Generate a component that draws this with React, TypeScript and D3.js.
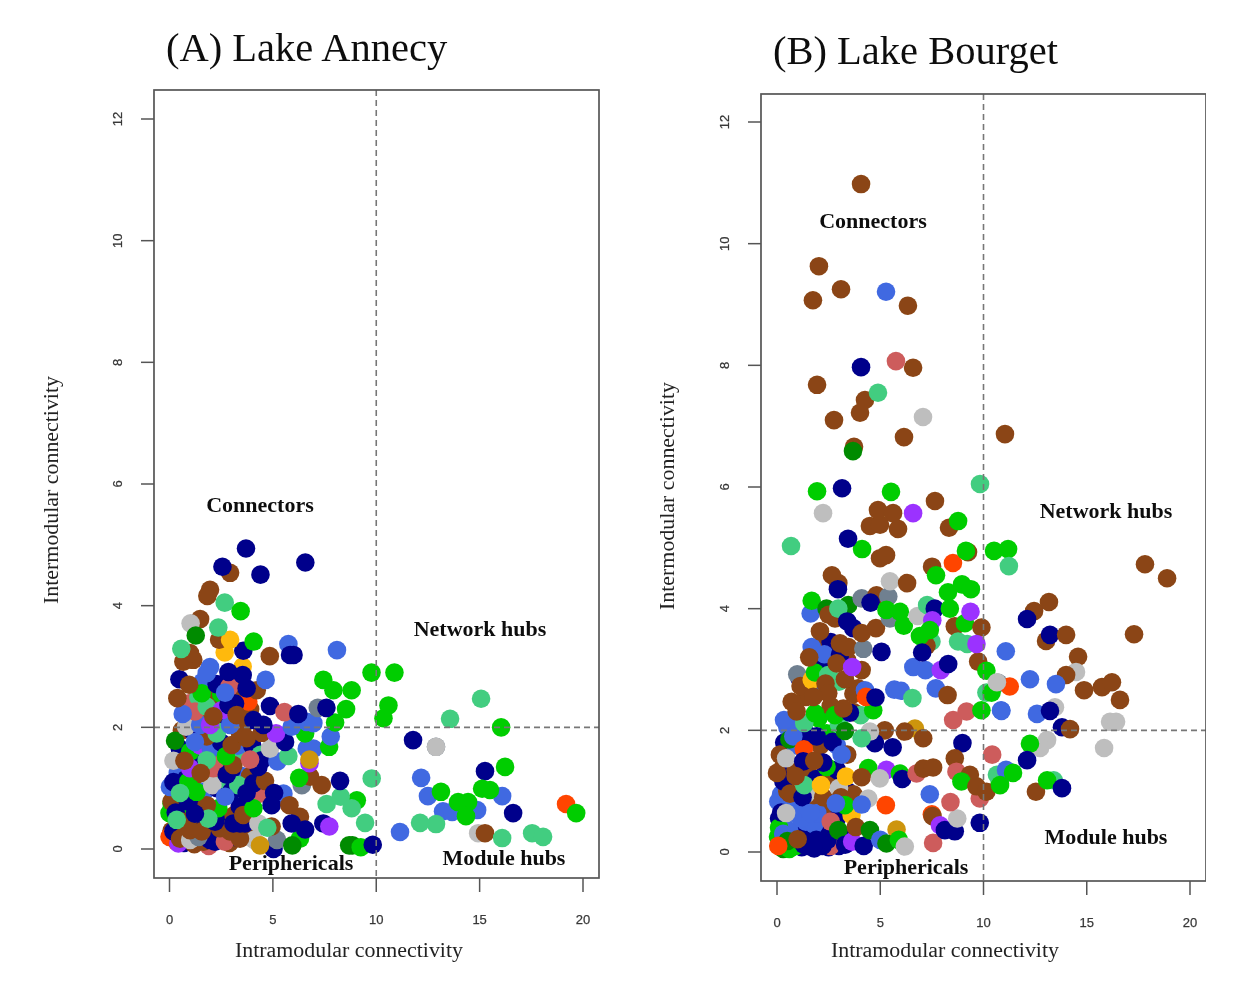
import React from "react";
import * as d3 from "d3";

const palette: Record<string, string> = {
  n: "#00008b", b: "#8b4513", g: "#00cd00", s: "#43cd80", l: "#4169e1", p: "#9b30ff",
  y: "#ffb90f", o: "#ff4500", d: "#008b00", h: "#708090", a: "#bebebe", r: "#cd5c5c", k: "#cd950c",
};
type P = [number, number, string];

const xTicks = [0, 5, 10, 15, 20];
const yTicks = [0, 2, 4, 6, 8, 10, 12];

const annecyDense: P[] = [
  [0.1,0.3,"b"],[0.35,0.12,"o"],[0.7,0.1,"n"],[1.2,0.08,"b"],[1.9,0.05,"r"],[2.2,0.12,"n"],[2.9,0.1,"b"],[3.2,0.2,"n"],[0.8,0.3,"n"],[1.3,0.4,"b"],[1.7,0.35,"n"],[2.7,0.2,"g"],[3.9,0.3,"b"],[4.1,0.15,"a"],
  [0.5,0.6,"b"],[0.9,0.55,"b"],[1.5,0.65,"n"],[2.1,0.55,"g"],[2.6,0.5,"n"],[3.1,0.55,"b"],[3.4,0.7,"n"],[0.25,0.9,"b"],[0.7,0.75,"g"],[1.2,1.0,"b"],[1.7,0.95,"l"],[2.3,1.0,"n"],[2.6,1.15,"s"],[3.0,0.95,"n"],[3.5,1.2,"l"],
  [0.4,1.25,"l"],[0.8,1.15,"n"],[1.4,1.4,"n"],[1.9,1.25,"b"],[2.4,1.45,"r"],[3.0,1.3,"n"],[3.5,1.55,"s"],[3.9,1.2,"b"],[0.5,1.65,"n"],[1.0,1.6,"g"],[1.5,1.7,"p"],[2.0,1.65,"l"],[2.5,1.75,"n"],[3.3,1.7,"l"],[4.0,1.7,"n"],[4.4,1.55,"s"],
  [0.6,1.95,"b"],[1.1,1.95,"n"],[1.6,2.1,"b"],[2.3,2.05,"s"],[2.7,2.2,"n"],[3.6,2.05,"b"],[1.0,2.4,"r"],[1.4,2.5,"s"],[2.0,2.45,"b"],[2.5,2.55,"g"],[3.3,2.6,"b"],[3.0,2.75,"b"],[1.6,2.75,"l"],[3.9,2.3,"b"],
];

const annecyPoints: P[] = [
  [0.0,0.2,"o"],[0.43,0.09,"p"],[0.19,0.29,"n"],[0.51,0.17,"b"],[1.64,0.12,"b"],[1.96,0.15,"n"],[2.68,0.12,"r"],[3.41,0.17,"b"],[1.0,0.15,"a"],[1.4,0.2,"h"],
  [0.0,0.59,"g"],[0.1,0.75,"g"],[0.1,0.78,"b"],[0.3,0.6,"n"],[0.6,0.45,"b"],[0.99,0.31,"b"],[1.56,0.29,"b"],[2.44,0.34,"b"],[2.93,0.29,"b"],[2.2,0.45,"n"],
  [3.09,0.42,"n"],[3.41,0.42,"n"],[3.65,0.42,"n"],[3.57,0.56,"b"],[2.36,0.67,"g"],[1.8,0.72,"b"],[0.35,0.48,"s"],[1.88,0.5,"s"],[0.88,0.78,"n"],[1.23,0.58,"n"],
  [5.03,0.0,"n"],[5.2,0.15,"h"],[4.3,0.42,"a"],[4.94,0.37,"b"],[4.73,0.35,"s"],[4.38,0.06,"k"],[6.31,0.17,"g"],[5.94,0.06,"d"],
  [0.02,1.02,"l"],[0.19,1.1,"n"],[0.91,1.11,"g"],[1.31,0.94,"g"],[0.51,0.92,"s"],[2.07,1.05,"a"],[3.33,1.05,"s"],[2.69,0.86,"l"],[4.38,0.91,"r"],[4.06,0.67,"g"],
  [4.06,1.08,"n"],[3.73,0.92,"n"],[4.62,1.12,"b"],[5.51,0.91,"l"],[5.06,0.92,"n"],[4.94,0.72,"n"],[5.8,0.72,"b"],[6.31,0.53,"b"],[5.91,0.42,"n"],[6.56,0.32,"n"],
  [7.44,0.42,"n"],[7.73,0.37,"p"],[9.06,0.8,"g"],[7.6,0.74,"s"],[8.28,0.86,"s"],[8.81,0.67,"s"],[9.46,0.43,"s"],[8.69,0.06,"d"],[8.85,0.06,"d"],[9.25,0.03,"g"],[9.83,0.07,"n"],
  [0.99,1.33,"p"],[2.12,1.33,"r"],[0.19,1.45,"a"],[0.72,1.45,"b"],[1.8,1.46,"s"],[2.77,1.22,"n"],[1.51,1.25,"b"],[3.09,1.38,"b"],[2.73,1.53,"g"],[4.3,1.35,"n"],[4.46,1.46,"n"],[3.9,1.47,"r"],[5.22,1.44,"l"],[5.75,1.53,"s"],
  [6.4,1.05,"h"],[6.8,1.19,"b"],[7.36,1.05,"b"],[6.27,1.17,"g"],[8.25,1.12,"n"],[9.78,1.16,"s"],[6.77,1.41,"p"],[6.64,1.65,"l"],[6.96,1.65,"l"],[6.77,1.47,"k"],
  [1.8,1.85,"b"],[2.28,1.9,"s"],[3.01,1.71,"b"],[0.27,1.78,"d"],[1.23,1.76,"l"],[3.41,1.9,"b"],[3.73,1.82,"b"],[4.86,1.65,"a"],[5.59,1.76,"n"],[4.46,1.91,"b"],[5.15,1.9,"p"],
  [7.72,1.68,"g"],[6.56,1.9,"g"],[7.8,1.85,"l"],[8.01,2.08,"g"],[6.64,2.09,"l"],[6.96,2.07,"l"],[5.91,2.01,"l"],[0.8,2.01,"a"],[1.48,2.04,"l"],[1.96,2.04,"p"],[2.93,2.04,"l"],
  [1.23,2.26,"r"],[0.64,2.22,"l"],[1.8,2.34,"s"],[2.52,2.28,"p"],[3.81,2.42,"o"],[2.85,2.37,"n"],[3.17,2.39,"n"],[2.12,2.18,"b"],[3.25,2.2,"b"],[4.06,2.12,"n"],[4.54,2.04,"n"],
  [4.86,2.35,"n"],[5.56,2.25,"r"],[6.23,2.22,"n"],[7.17,2.32,"h"],[7.59,2.32,"n"],[8.54,2.3,"g"],[10.35,2.15,"g"],[10.59,2.36,"g"],[7.44,2.78,"g"],[7.93,2.61,"g"],[8.81,2.61,"g"],[9.77,2.9,"g"],[10.88,2.9,"g"],
  [0.38,2.48,"b"],[1.56,2.56,"g"],[2.28,2.71,"n"],[2.9,2.67,"r"],[4.22,2.61,"b"],[3.73,2.64,"n"],[2.69,2.57,"l"],[0.48,2.79,"n"],[0.95,2.7,"b"],[4.65,2.78,"l"],
  [3.54,3.0,"y"],[3.54,2.86,"n"],[2.85,2.91,"n"],[1.96,2.99,"l"],[1.8,2.89,"l"],[1.15,3.11,"b"],[0.67,3.08,"b"],[0.99,3.22,"b"],[0.57,3.29,"s"],
  [5.75,3.37,"l"],[5.83,3.19,"n"],[6.0,3.19,"n"],[8.1,3.27,"l"],[4.85,3.17,"b"],[2.67,3.23,"y"],[3.57,3.26,"n"],[2.4,3.44,"b"],[2.93,3.44,"y"],[4.07,3.41,"g"],
  [1.48,3.78,"b"],[1.02,3.71,"a"],[2.36,3.64,"s"],[1.27,3.51,"d"],[1.96,4.26,"b"],[1.83,4.16,"b"],[2.67,4.05,"s"],[3.44,3.91,"g"],[2.93,4.54,"b"],[2.56,4.64,"n"],[3.7,4.94,"n"],[4.4,4.51,"n"],[6.57,4.71,"n"],
  [11.15,0.28,"l"],[11.78,1.79,"n"],[12.89,1.68,"h"],[12.89,1.68,"a"],[13.57,2.14,"s"],[16.04,2.0,"g"],[15.07,2.47,"s"],[12.17,1.17,"l"],[12.5,0.87,"l"],[16.09,0.87,"l"],[15.26,1.28,"n"],[16.23,1.35,"g"],
  [13.13,0.94,"g"],[13.23,0.62,"l"],[13.67,0.61,"l"],[14.88,0.64,"l"],[15.12,0.99,"g"],[15.5,0.97,"g"],[13.96,0.77,"g"],[14.44,0.77,"g"],[14.34,0.54,"g"],[12.89,0.41,"s"],[12.12,0.43,"s"],
  [14.93,0.26,"a"],[15.26,0.26,"b"],[16.09,0.18,"s"],[16.62,0.59,"n"],[17.54,0.26,"s"],[18.07,0.2,"s"],[19.18,0.74,"o"],[19.67,0.59,"g"],
];

const bourgetDense: P[] = [
  [0.05,0.25,"g"],[0.3,0.05,"d"],[0.6,0.05,"g"],[0.8,0.3,"n"],[1.2,0.08,"n"],[1.5,0.1,"n"],[1.8,0.06,"n"],[2.1,0.15,"n"],[2.5,0.08,"n"],[1.4,0.3,"n"],[1.8,0.3,"n"],[2.3,0.28,"n"],[2.8,0.12,"r"],[3.0,0.1,"n"],[3.4,0.25,"n"],
  [0.1,0.55,"n"],[0.3,0.45,"l"],[0.6,0.35,"l"],[0.8,0.65,"l"],[1.1,0.75,"l"],[1.4,0.5,"l"],[1.8,0.45,"l"],[0.2,0.95,"l"],[0.55,0.8,"l"],[1.4,0.8,"l"],[2.0,0.85,"b"],[2.5,0.65,"b"],[2.9,0.55,"n"],
  [0.3,1.4,"b"],[0.5,1.25,"n"],[0.9,1.35,"b"],[1.5,1.3,"b"],[1.9,1.2,"n"],[1.4,0.95,"a"],[2.6,1.2,"b"],[2.9,1.35,"n"],[3.4,1.0,"n"],[3.7,0.95,"b"],[2.4,1.4,"g"],
  [0.35,1.8,"n"],[0.9,1.75,"l"],[1.6,1.85,"b"],[2.1,1.75,"b"],[2.9,1.75,"l"],[3.4,1.6,"b"],[0.5,2.05,"l"],[1.0,2.1,"l"],[1.4,1.95,"n"],[2.4,1.95,"g"],[3.0,2.1,"s"],
  [1.4,2.55,"b"],[2.0,2.2,"g"],[2.6,2.4,"b"],[3.7,2.3,"b"],[1.1,2.85,"n"],[2.0,2.75,"l"],[3.0,2.8,"s"],[3.7,2.6,"b"],[2.2,3.1,"n"],[2.0,3.35,"b"],[2.6,3.45,"n"],[3.4,3.15,"b"],
];

const bourgetPoints: P[] = [
  [0.06,0.83,"l"],[0.1,0.4,"g"],[0.3,0.3,"l"],[0.2,0.65,"n"],[0.5,1.0,"b"],[0.31,1.16,"n"],[0.14,1.6,"b"],[0.0,1.3,"b"],[0.63,0.96,"b"],[1.24,0.9,"n"],[1.32,1.1,"s"],
  [1.95,0.64,"l"],[1.15,0.55,"l"],[2.24,0.9,"b"],[2.13,1.1,"y"],[3.0,1.05,"a"],[3.1,0.9,"b"],[1.6,0.64,"l"],[0.44,0.64,"a"],[2.6,0.5,"r"],[3.61,0.61,"y"],[3.29,0.77,"g"],[2.85,0.8,"l"],[4.42,0.88,"a"],[4.1,0.78,"l"],
  [0.9,0.1,"g"],[0.5,0.18,"d"],[2.6,0.1,"r"],[1.3,0.12,"n"],[1.6,0.15,"n"],[1.9,0.2,"n"],[2.2,0.1,"n"],[2.45,0.2,"n"],[1.75,0.08,"n"],[0.06,0.1,"o"],[1.0,0.21,"b"],[2.97,0.36,"d"],[3.3,0.12,"n"],[3.64,0.17,"p"],[3.82,0.41,"b"],[4.2,0.1,"n"],[4.5,0.36,"d"],[5.0,0.2,"l"],[5.79,0.37,"k"],[5.3,0.14,"d"],[5.9,0.2,"g"],[6.19,0.09,"a"],
  [7.56,0.15,"r"],[7.5,0.62,"o"],[7.53,0.59,"b"],[7.89,0.44,"p"],[8.13,0.36,"n"],[8.61,0.34,"n"],[8.73,0.55,"a"],[9.82,0.48,"n"],[8.4,0.82,"r"],[7.4,0.95,"l"],[5.27,0.77,"o"],
  [0.34,2.17,"l"],[0.6,1.85,"d"],[0.79,1.9,"l"],[1.3,1.69,"o"],[0.44,1.54,"a"],[1.27,1.49,"n"],[2.24,1.47,"n"],[1.92,1.9,"n"],[2.69,1.81,"n"],[3.13,1.6,"l"],[1.8,1.5,"b"],[0.9,1.25,"b"],
  [3.34,1.24,"y"],[4.42,1.38,"g"],[4.1,1.23,"b"],[5.3,1.35,"p"],[5.95,1.29,"g"],[4.98,1.21,"a"],[6.06,1.2,"n"],[6.76,1.29,"r"],[7.08,1.37,"b"],[7.56,1.39,"b"],
  [8.98,1.79,"n"],[8.61,1.54,"b"],[8.69,1.32,"r"],[10.42,1.6,"r"],[9.34,1.27,"b"],[8.93,1.16,"g"],[9.82,0.88,"r"],[10.79,1.13,"g"],[9.66,1.08,"b"],[10.14,0.99,"b"],[11.08,1.32,"l"],
  [6.68,2.03,"k"],[5.22,2.0,"b"],[6.19,1.98,"b"],[7.08,1.87,"b"],[5.6,1.72,"n"],[4.74,1.79,"n"],[4.5,1.98,"a"],[3.29,1.99,"d"],[4.1,1.87,"s"],
  [8.53,2.17,"r"],[9.18,2.31,"r"],[9.9,2.33,"g"],[10.87,2.32,"l"],[1.32,2.12,"s"],[1.84,2.28,"g"],[2.81,2.25,"g"],[4.05,2.25,"s"],[3.53,2.29,"n"],[3.21,2.36,"b"],[4.66,2.33,"g"],
  [0.98,2.92,"h"],[1.14,2.73,"b"],[1.68,2.83,"y"],[1.84,2.95,"g"],[2.48,2.91,"s"],[2.35,2.77,"b"],[2.48,2.61,"b"],[1.76,2.55,"b"],[0.71,2.47,"b"],[0.95,2.31,"b"],
  [3.93,2.69,"b"],[4.26,2.66,"l"],[4.31,2.55,"o"],[4.77,2.54,"n"],[5.68,2.67,"l"],[6.0,2.65,"l"],[6.56,2.53,"s"],[7.69,2.69,"l"],[8.26,2.58,"b"],
  [1.68,3.37,"l"],[2.29,3.25,"l"],[1.56,3.2,"b"],[3.05,3.24,"n"],[3.05,3.43,"b"],[3.45,3.37,"b"],[2.89,3.1,"b"],[4.1,2.99,"b"],[3.29,2.84,"b"],[3.64,3.04,"p"],[4.18,3.34,"h"],[5.06,3.29,"n"],
  [6.6,3.04,"l"],[7.19,2.99,"l"],[7.93,2.99,"p"],[8.29,3.09,"n"],[9.74,3.13,"b"],[10.14,2.98,"g"],[11.08,3.3,"l"],[10.71,2.78,"h"],[11.27,2.72,"o"],[10.14,2.62,"s"],[10.39,2.62,"g"],[10.65,2.79,"a"],[10.85,2.33,"l"],
  [1.63,3.92,"l"],[1.68,4.13,"g"],[2.4,4.0,"d"],[3.45,4.06,"d"],[2.81,3.84,"b"],[2.5,3.9,"b"],[2.97,4.0,"s"],[2.08,3.63,"b"],[3.4,3.79,"n"],[3.69,3.68,"n"],[4.1,3.6,"b"],[4.79,3.68,"b"],
  [4.1,4.17,"h"],[4.82,4.22,"b"],[5.39,4.2,"h"],[4.53,4.1,"n"],[5.47,3.84,"h"],[5.3,3.98,"g"],[5.95,3.95,"g"],[6.14,3.72,"g"],[6.81,3.88,"a"],[7.27,4.06,"s"],[7.64,4.0,"n"],[7.52,3.81,"p"],
  [7.48,3.46,"s"],[7.24,3.39,"b"],[7.4,3.65,"g"],[6.92,3.55,"g"],[7.03,3.28,"n"],[8.61,3.71,"b"],[9.1,3.76,"g"],[9.9,3.69,"b"],[8.77,3.46,"s"],[9.21,3.42,"s"],[9.66,3.42,"p"],[9.37,3.95,"p"],
  [8.37,4.0,"g"],[8.28,4.27,"g"],[8.96,4.4,"g"],[9.39,4.32,"g"],[2.97,4.42,"b"],[2.66,4.55,"b"],[2.95,4.32,"n"],[5.47,4.45,"a"],[6.3,4.42,"b"],[7.51,4.69,"b"],[8.52,4.75,"o"],[7.7,4.55,"g"],
  [4.99,4.83,"b"],[5.28,4.88,"b"],[4.12,4.98,"g"],[0.68,5.03,"s"],[3.44,5.15,"n"],[9.25,4.93,"b"],[9.15,4.95,"g"],[10.51,4.95,"g"],[11.19,4.98,"g"],[11.23,4.7,"s"],
  [4.5,5.36,"b"],[4.99,5.38,"b"],[5.86,5.31,"b"],[8.33,5.33,"b"],[8.77,5.44,"g"],[4.89,5.62,"b"],[5.62,5.57,"b"],[2.23,5.57,"a"],[6.59,5.57,"p"],[7.65,5.77,"b"],[3.15,5.98,"n"],[1.94,5.93,"g"],[5.52,5.92,"g"],[9.83,6.05,"s"],
  [3.73,6.66,"b"],[3.68,6.59,"d"],[6.15,6.82,"b"],[11.04,6.87,"b"],[4.26,7.43,"b"],[4.02,7.22,"b"],[2.76,7.1,"b"],[7.07,7.15,"a"],[4.89,7.55,"s"],[1.94,7.68,"b"],[6.59,7.96,"b"],[5.76,8.07,"r"],[4.07,7.97,"n"],
  [1.74,9.07,"b"],[3.1,9.25,"b"],[6.34,8.98,"b"],[5.28,9.21,"l"],[2.03,9.63,"b"],[4.07,10.98,"b"],
  [17.82,4.73,"b"],[18.89,4.5,"b"],[13.17,4.11,"b"],[12.45,3.96,"b"],[12.11,3.83,"n"],[13.03,3.47,"b"],[13.22,3.57,"n"],[14.0,3.57,"b"],[17.29,3.58,"b"],[14.58,3.21,"b"],[14.48,2.96,"a"],[14.0,2.91,"b"],
  [13.51,2.76,"l"],[14.87,2.66,"b"],[15.74,2.71,"b"],[16.22,2.79,"b"],[16.61,2.5,"b"],[12.25,2.84,"l"],[12.59,2.27,"l"],[13.46,2.38,"a"],[13.22,2.32,"n"],[13.8,2.05,"n"],[14.19,2.02,"b"],
  [16.13,2.14,"a"],[16.42,2.14,"a"],[15.84,1.71,"a"],[13.08,1.84,"a"],[12.74,1.71,"a"],[12.25,1.78,"g"],[12.11,1.51,"n"],[10.65,1.27,"s"],[11.09,1.35,"l"],[10.8,1.1,"g"],[11.43,1.3,"g"],[12.54,0.99,"b"],[13.4,1.18,"s"],[13.08,1.18,"g"],[13.8,1.05,"n"],
];

function Panel({ title, titleX, titleY, points, x0, x1, y0, y1, bx0, bx1, by0, by1, xlabelX, ylabelX, ylabelY, xlabelY, labels }: any) {
  const x = d3.scaleLinear().domain([0, 20]).range([x0, x1]);
  const y = d3.scaleLinear().domain([0, 12]).range([y0, y1]);
  const axis = "#555";
  return (
    <g>
      <text x={titleX} y={titleY} fontFamily="Liberation Serif" fontSize={40.5} fill="#111">{title}</text>
      {points.map((p: P, i: number) => (
        <circle key={i} cx={x(p[0])} cy={y(p[1])} r={9.3} fill={palette[p[2]]} />
      ))}
      <line x1={x(10)} x2={x(10)} y1={by0} y2={by1} stroke="#777" strokeWidth={1.6} strokeDasharray="6 4" />
      <line x1={bx0} x2={bx1} y1={y(2)} y2={y(2)} stroke="#777" strokeWidth={1.6} strokeDasharray="6 4" />
      <rect x={bx0} y={by0} width={bx1 - bx0} height={by1 - by0} fill="none" stroke={axis} strokeWidth={1.7} />
      {xTicks.map((t) => (
        <g key={t}>
          <line x1={x(t)} x2={x(t)} y1={by1} y2={by1 + 14} stroke={axis} strokeWidth={1.5} />
          <text x={x(t)} y={by1 + 46} textAnchor="middle" fontFamily="Liberation Sans" fontSize={13} stroke="#444" strokeWidth={0.25} fill="#333">{t}</text>
        </g>
      ))}
      {yTicks.map((t) => (
        <g key={t}>
          <line x1={bx0 - 13} x2={bx0} y1={y(t)} y2={y(t)} stroke={axis} strokeWidth={1.5} />
          <text transform={`translate(${bx0 - 32},${y(t)}) rotate(-90)`} textAnchor="middle" fontFamily="Liberation Sans" fontSize={13} stroke="#444" strokeWidth={0.25} fill="#333">{t}</text>
        </g>
      ))}
      <text x={xlabelX} y={xlabelY} textAnchor="middle" fontFamily="Liberation Serif" fontSize={21.9} fill="#222">Intramodular connectivity</text>
      <text transform={`translate(${ylabelX},${ylabelY}) rotate(-90)`} textAnchor="middle" fontFamily="Liberation Serif" fontSize={21.9} fill="#222">Intermodular connectivity</text>
      {labels.map((l: any) => (
        <text key={l[0]} x={l[1]} y={l[2]} textAnchor="middle" fontFamily="Liberation Serif" fontWeight="bold" fontSize={22} fill="#111">{l[0]}</text>
      ))}
    </g>
  );
}

export default function App() {
  return (
    <svg width={1253} height={997} style={{ position: "absolute", left: 0, top: 0, background: "#fff" }}>
      <defs>
        <filter id="soft" x="0" y="0" width="100%" height="100%" filterUnits="objectBoundingBox">
          <feGaussianBlur stdDeviation="0.45" />
        </filter>
      </defs>
      <rect width={1253} height={997} fill="#fff" />
      <g filter="url(#soft)">
        <Panel title="(A) Lake Annecy" titleX={166} titleY={61} points={[...annecyDense, ...annecyPoints]}
          x0={169.5} x1={583} y0={849} y1={119} bx0={154} bx1={599} by0={90} by1={878}
          xlabelX={349} xlabelY={957} ylabelX={58} ylabelY={490}
          labels={[["Connectors", 260, 512], ["Network hubs", 480, 636], ["Periphericals", 291, 870], ["Module hubs", 504, 865]]} />
        <Panel title="(B) Lake Bourget" titleX={773} titleY={64} points={[...bourgetDense, ...bourgetPoints]}
          x0={777} x1={1190} y0={852} y1={122} bx0={761} bx1={1206} by0={94} by1={881}
          xlabelX={945} xlabelY={957} ylabelX={674} ylabelY={496}
          labels={[["Connectors", 873, 228], ["Network hubs", 1106, 518], ["Periphericals", 906, 874], ["Module hubs", 1106, 844]]} />
      </g>
    </svg>
  );
}
